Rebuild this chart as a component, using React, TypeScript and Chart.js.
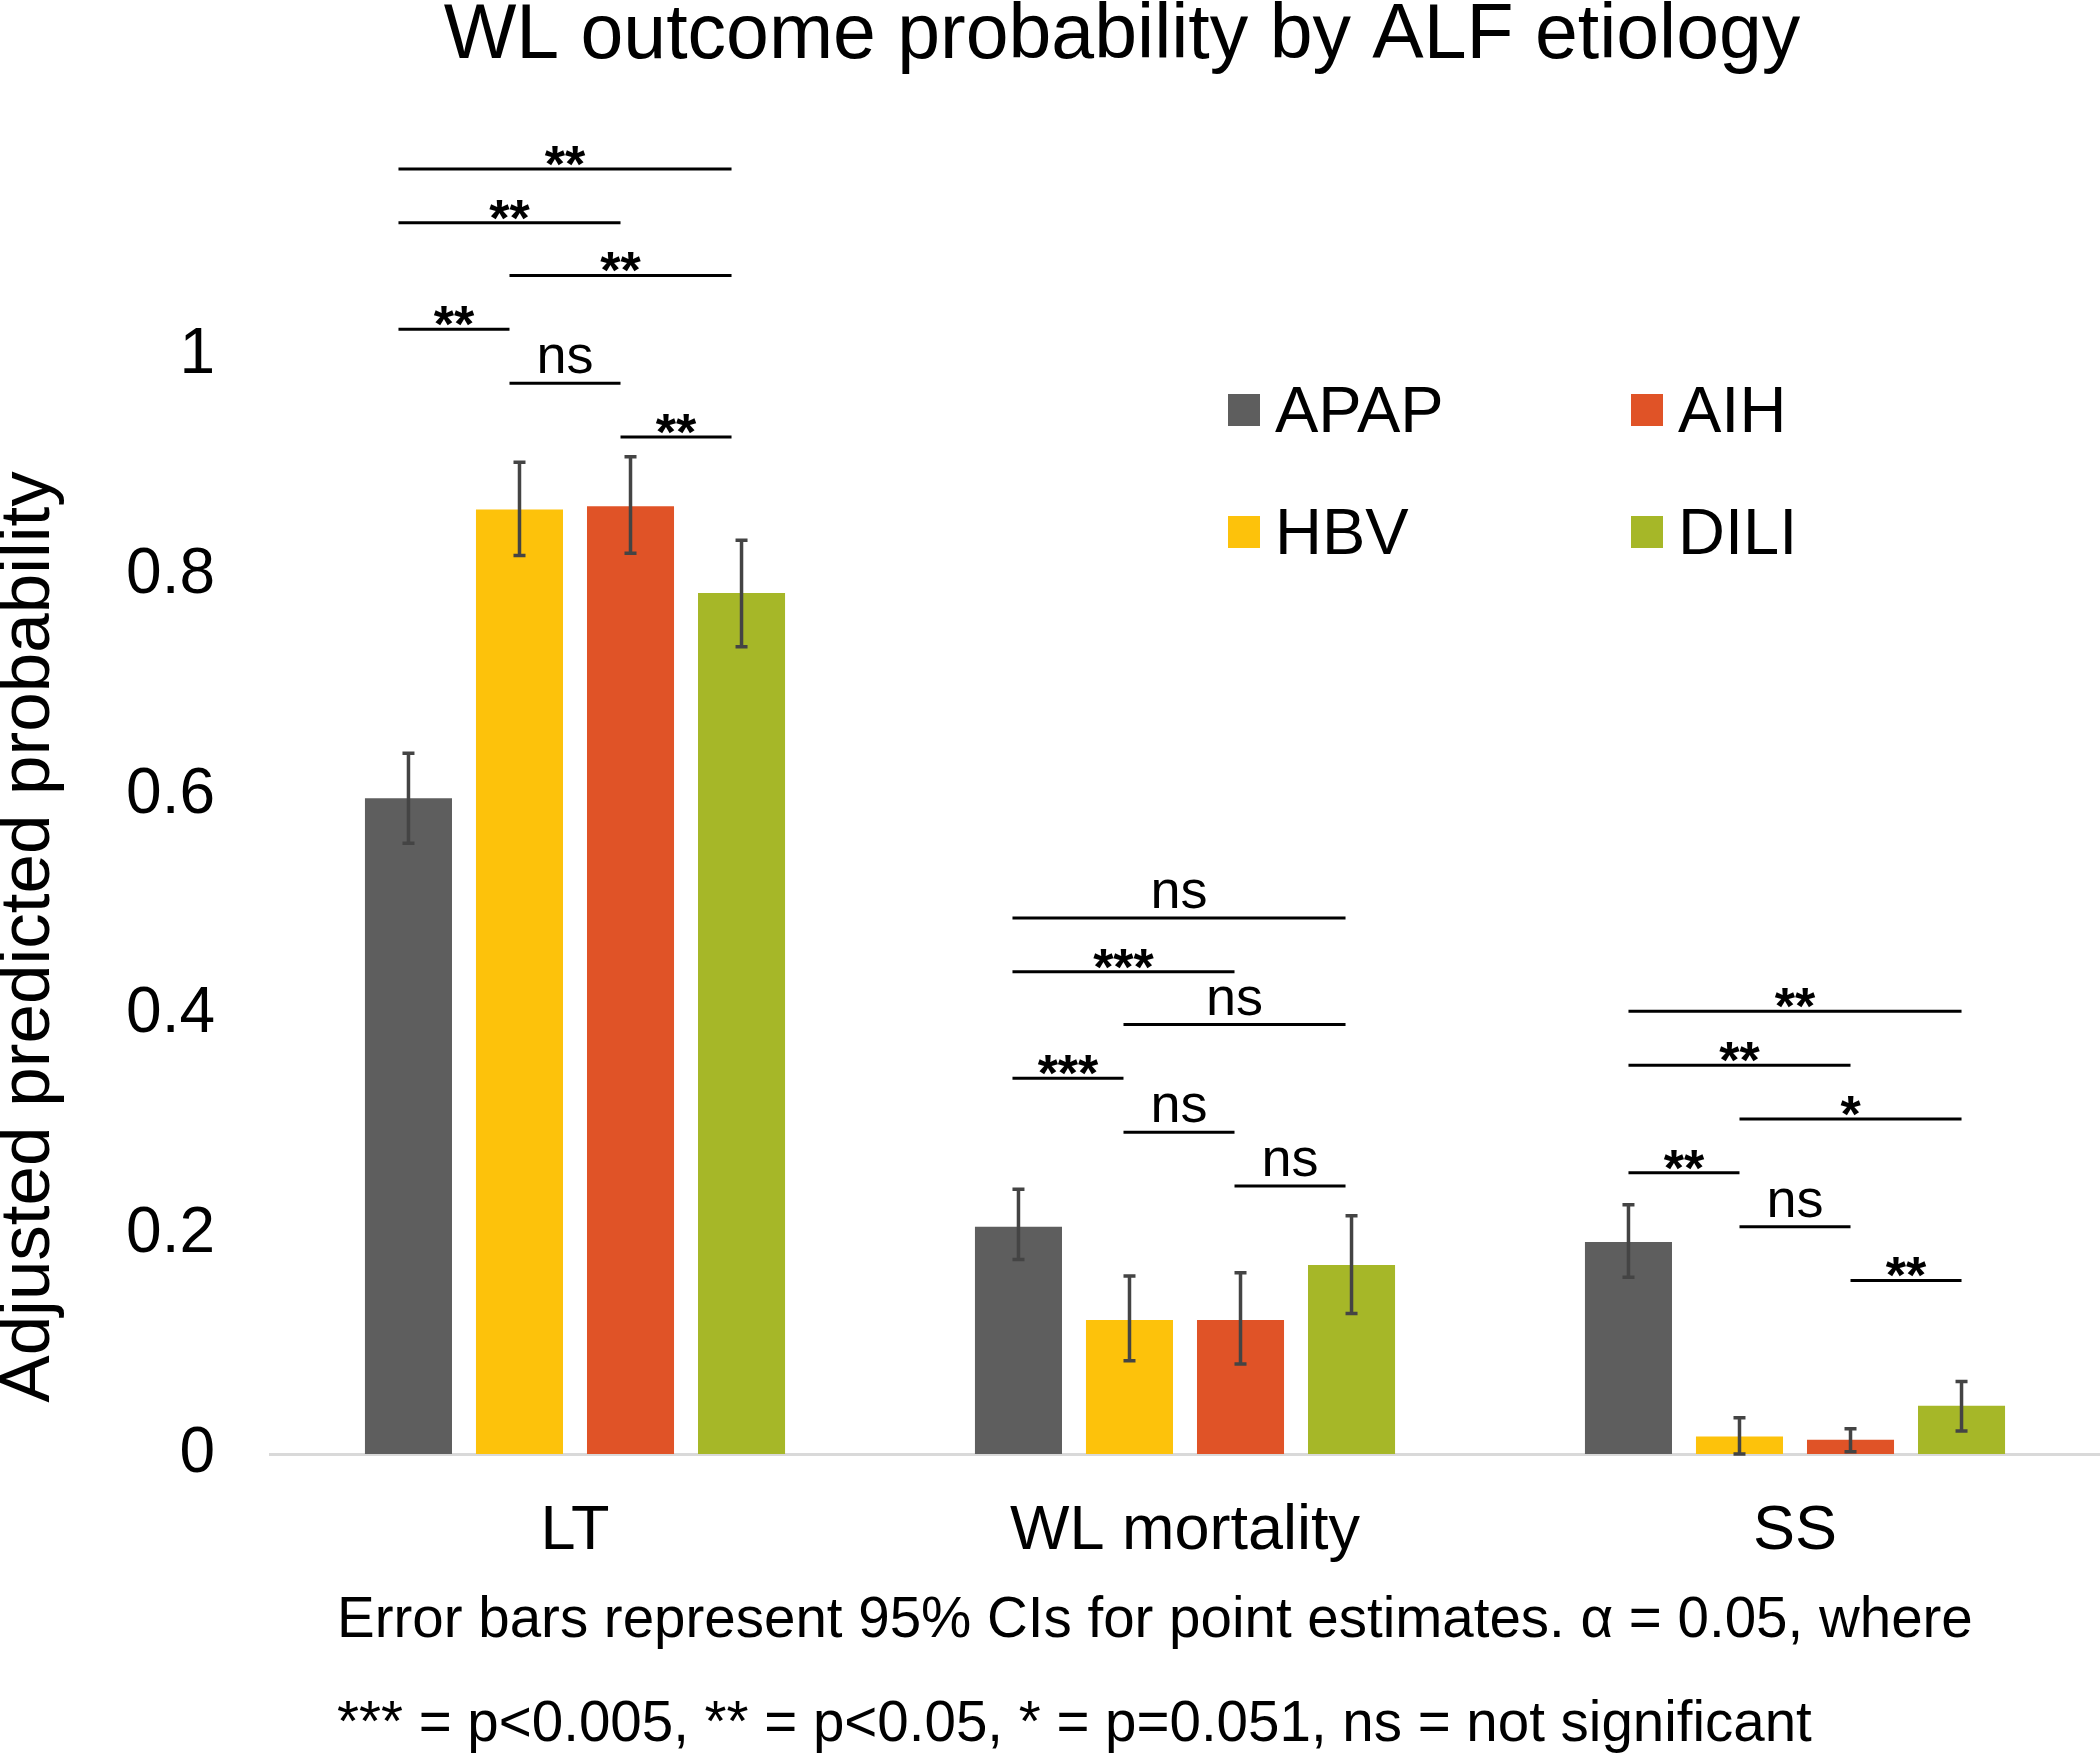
import React, { useEffect, useRef } from 'react';
import { Chart, registerables } from 'chart.js';

Chart.register(...registerables);

const FONT = '"Liberation Sans", Arial, Helvetica, sans-serif';

const categories = ['LT', 'WL mortality', 'SS'];
const seriesLabels = ['APAP', 'HBV', 'AIH', 'DILI'];
const seriesColors = ['#5e5e5e', '#fdc20b', '#e05327', '#a6b728'];

const apapValues = [0.597, 0.207, 0.193];
const hbvValues = [0.86, 0.122, 0.016];
const aihValues = [0.863, 0.122, 0.013];
const diliValues = [0.784, 0.172, 0.044];

const apapCiLow = [0.556, 0.177, 0.161];
const apapCiHigh = [0.638, 0.241, 0.227];
const hbvCiLow = [0.818, 0.085, 0.0];
const hbvCiHigh = [0.903, 0.162, 0.033];
const aihCiLow = [0.82, 0.082, 0.002];
const aihCiHigh = [0.908, 0.165, 0.023];
const diliCiLow = [0.735, 0.128, 0.021];
const diliCiHigh = [0.832, 0.217, 0.066];

const yTickValues = [0, 0.2, 0.4, 0.6, 0.8, 1];
const yTickLabels = ['0', '0.2', '0.4', '0.6', '0.8', '1'];

// significance brackets: [fromSeriesIndex, toSeriesIndex, level (probability units), label]
const ltBrackets: [number, number, number, string][] = [
  [0, 3, 1.17, '**'],
  [0, 2, 1.121, '**'],
  [1, 3, 1.073, '**'],
  [0, 1, 1.024, '**'],
  [1, 2, 0.975, 'ns'],
  [2, 3, 0.926, '**'],
];
const wlBrackets: [number, number, number, string][] = [
  [0, 3, 0.488, 'ns'],
  [0, 2, 0.439, '***'],
  [1, 3, 0.391, 'ns'],
  [0, 1, 0.342, '***'],
  [1, 2, 0.293, 'ns'],
  [2, 3, 0.244, 'ns'],
];
const ssBrackets: [number, number, number, string][] = [
  [0, 3, 0.403, '**'],
  [0, 2, 0.354, '**'],
  [1, 3, 0.305, '*'],
  [0, 1, 0.256, '**'],
  [1, 2, 0.207, 'ns'],
  [2, 3, 0.158, '**'],
];

const chartTitle = 'WL outcome probability by ALF etiology';
const yAxisTitle = 'Adjusted predicted probability';
const footnoteLines = [
  'Error bars represent 95% CIs for point estimates. \u03b1 = 0.05, where',
  '*** = p<0.005, ** = p<0.05, * = p=0.051, ns = not significant',
];

const seriesValues = [apapValues, hbvValues, aihValues, diliValues];
const ciLows = [apapCiLow, hbvCiLow, aihCiLow, diliCiLow];
const ciHighs = [apapCiHigh, hbvCiHigh, aihCiHigh, diliCiHigh];
const bracketGroups = [ltBrackets, wlBrackets, ssBrackets];
const bracketShift = [-10, -6, 0];

const overlayPlugin = {
  id: 'overlay',
  afterDatasetsDraw(chart: any) {
    const ctx = chart.ctx as CanvasRenderingContext2D;
    const yScale = chart.scales.y;
    ctx.save();
    // error bars
    ctx.strokeStyle = '#444444';
    ctx.lineWidth = 3.5;
    ctx.lineCap = 'butt';
    for (let d = 0; d < seriesValues.length; d++) {
      const meta = chart.getDatasetMeta(d);
      meta.data.forEach((bar: any, i: number) => {
        const x = bar.x;
        const yl = yScale.getPixelForValue(ciLows[d][i]);
        const yh = yScale.getPixelForValue(ciHighs[d][i]);
        ctx.beginPath();
        ctx.moveTo(x, yl);
        ctx.lineTo(x, yh);
        ctx.moveTo(x - 6, yl);
        ctx.lineTo(x + 6, yl);
        ctx.moveTo(x - 6, yh);
        ctx.lineTo(x + 6, yh);
        ctx.stroke();
      });
    }
    // significance brackets
    ctx.strokeStyle = '#000';
    ctx.fillStyle = '#000';
    ctx.lineWidth = 3;
    ctx.textAlign = 'center';
    ctx.textBaseline = 'alphabetic';
    bracketGroups.forEach((group, g) => {
      group.forEach(([a, b, level, label]) => {
        const x1 = chart.getDatasetMeta(a).data[g].x + bracketShift[g];
        const x2 = chart.getDatasetMeta(b).data[g].x + bracketShift[g];
        const y = yScale.getPixelForValue(level);
        ctx.beginPath();
        ctx.moveTo(x1, y);
        ctx.lineTo(x2, y);
        ctx.stroke();
        const isStar = /^\*+$/.test(label);
        ctx.font = isStar ? `bold 52px ${FONT}` : `54px ${FONT}`;
        ctx.fillText(label, (x1 + x2) / 2, isStar ? y + 13 : y - 10);
      });
    });
    ctx.restore();
  },
  afterDraw(chart: any) {
    const ctx = chart.ctx as CanvasRenderingContext2D;
    ctx.save();
    ctx.fillStyle = '#000';
    // title
    ctx.font = `77px ${FONT}`;
    ctx.textAlign = 'center';
    ctx.textBaseline = 'alphabetic';
    ctx.fillText(chartTitle, 1122, 58);
    // y axis title
    ctx.save();
    ctx.translate(29, 937);
    ctx.rotate(-Math.PI / 2);
    ctx.font = `71px ${FONT}`;
    ctx.textAlign = 'center';
    ctx.textBaseline = 'middle';
    ctx.fillText(yAxisTitle, 0, 0);
    ctx.restore();
    // legend (2 x 2)
    const legendCols = [1228, 1631];
    const legendRows = [410, 532];
    ctx.font = `65px ${FONT}`;
    ctx.textAlign = 'left';
    ctx.textBaseline = 'alphabetic';
    const order = [0, 2, 1, 3];
    order.forEach((d, k) => {
      const col = k % 2;
      const row = Math.floor(k / 2);
      const bx = legendCols[col];
      const by = legendRows[row];
      ctx.fillStyle = seriesColors[d];
      ctx.fillRect(bx, by - 16, 32, 32);
      ctx.fillStyle = '#000';
      ctx.fillText(seriesLabels[d], bx + 47, by + 22);
    });
    // footnote
    ctx.font = `56.5px ${FONT}`;
    ctx.textAlign = 'left';
    ctx.fillText(footnoteLines[0], 337, 1637);
    ctx.fillText(footnoteLines[1], 337, 1741);
    ctx.restore();
  },
};

export default function App() {
  const ref = useRef<HTMLCanvasElement>(null);
  useEffect(() => {
    const canvas = ref.current;
    if (!canvas) return;
    const chart = new Chart(canvas, {
      type: 'bar',
      data: {
        labels: categories,
        datasets: seriesLabels.map((label, d) => ({
          label,
          data: seriesValues[d],
          backgroundColor: seriesColors[d],
          borderWidth: 0,
          categoryPercentage: 0.728,
          barPercentage: 0.784,
        })),
      },
      options: {
        responsive: false,
        animation: false,
        events: [],
        layout: { padding: { top: 136, left: 0, right: 0, bottom: 0 } },
        plugins: {
          legend: { display: false },
          title: { display: false },
          tooltip: { enabled: false },
        },
        scales: {
          x: {
            grid: { display: false, drawTicks: false },
            border: { display: true, color: '#d9d9d9', width: 3 },
            ticks: {
              color: '#000',
              font: { family: FONT, size: 63, lineHeight: 1 },
              padding: 46,
              maxRotation: 0,
            },
            afterFit: (s: any) => {
              s.height = 301;
            },
          },
          y: {
            min: 0,
            max: 1.2,
            grid: { display: false, drawTicks: false },
            border: { display: false },
            ticks: {
              color: '#000',
              font: { family: FONT, size: 64 },
              padding: 55,
              callback: (_v: any, i: number) => yTickLabels[i],
            },
            afterBuildTicks: (s: any) => {
              s.ticks = yTickValues.map((v) => ({ value: v }));
            },
            afterFit: (s: any) => {
              s.width = 270;
            },
          },
        },
      },
      plugins: [overlayPlugin],
    });
    return () => chart.destroy();
  }, []);
  return (
    <div style={{ position: 'absolute', left: 0, top: 0, width: 2100, height: 1755, background: '#fff' }}>
      <canvas ref={ref} width={2100} height={1755} style={{ display: 'block', width: 2100, height: 1755 }} />
    </div>
  );
}
